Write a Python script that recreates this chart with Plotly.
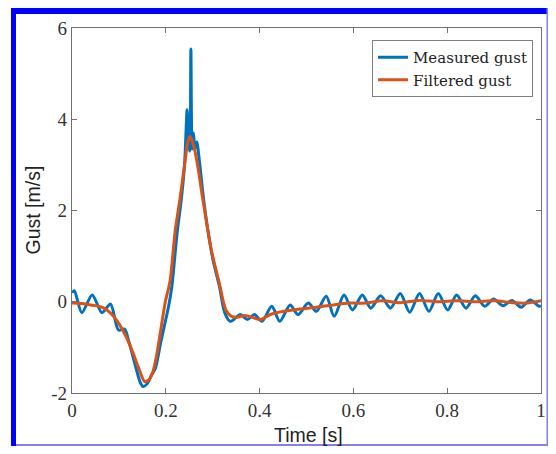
import plotly.graph_objects as go

# ---- data ----
meas_t = [0.000, 0.005, 0.021, 0.043, 0.064, 0.082, 0.099, 0.112, 0.122, 0.135, 0.146, 0.152,
          0.160, 0.170, 0.178, 0.190, 0.206, 0.213, 0.224, 0.233, 0.240, 0.2455, 0.248, 0.251,
          0.2535, 0.256, 0.259, 0.262, 0.266, 0.272, 0.280, 0.290, 0.300, 0.314, 0.326, 0.3375,
          0.359, 0.374, 0.389, 0.405, 0.426, 0.443, 0.465, 0.482, 0.504, 0.521, 0.542, 0.559,
          0.580, 0.598, 0.619, 0.637, 0.658, 0.679, 0.700, 0.720, 0.741, 0.761, 0.781, 0.801,
          0.820, 0.840, 0.860, 0.880, 0.899, 0.919, 0.938, 0.958, 0.977, 0.996, 1.000]
meas_v = [0.20, 0.24, -0.24, 0.15, -0.24, -0.05, -0.62, -0.60, -0.90, -1.40, -1.78, -1.86,
          -1.80, -1.60, -1.45, -0.85, -0.10, 0.34, 1.50, 2.24, 3.00, 4.21, 3.50, 3.30,
          5.54, 3.35, 3.70, 3.35, 3.50, 3.05, 2.30, 1.55, 0.95, 0.35, -0.25, -0.43,
          -0.28, -0.39, -0.28, -0.43, -0.10, -0.43, -0.07, -0.28, -0.03, -0.21, 0.12, -0.32,
          0.15, -0.18, 0.15, -0.14, 0.13, -0.14, 0.18, -0.23, 0.18, -0.21, 0.18, -0.18,
          0.15, -0.14, 0.13, -0.10, 0.06, -0.09, 0.03, -0.12, 0.04, -0.10, -0.08]

filt_t = [0.000, 0.020, 0.040, 0.066, 0.087, 0.100, 0.115, 0.130, 0.142, 0.155, 0.163, 0.172,
          0.180, 0.188, 0.199, 0.209, 0.220, 0.230, 0.240, 0.246, 0.251, 0.260, 0.270, 0.279,
          0.297, 0.314, 0.328, 0.340, 0.353, 0.367, 0.381, 0.402, 0.423, 0.451, 0.486, 0.521,
          0.556, 0.591, 0.626, 0.661, 0.700, 0.740, 0.780, 0.820, 0.860, 0.900, 0.940, 0.970, 1.000]
filt_v = [-0.03, -0.04, -0.07, -0.13, -0.30, -0.48, -0.76, -1.12, -1.45, -1.75, -1.72, -1.55,
          -1.20, -0.70, 0.00, 0.45, 1.55, 2.24, 3.00, 3.45, 3.63, 3.40, 2.85, 2.24,
          1.14, 0.41, -0.18, -0.32, -0.34, -0.30, -0.33, -0.39, -0.28, -0.21, -0.16, -0.12,
          -0.07, -0.03, -0.03, 0.02, -0.02, 0.03, 0.00, 0.02, 0.00, 0.02, -0.02, -0.03, 0.02]

x_ticks = [0, 0.2, 0.4, 0.6, 0.8, 1]
x_ticktext = ["0", "0.2", "0.4", "0.6", "0.8", "1"]
y_ticks = [-2, 0, 2, 4, 6]
y_ticktext = ["-2", "0", "2", "4", "6"]

series_names = ["Measured gust", "Filtered gust"]
colors = ["#0072BD", "#D95319"]

# ---- geometry (page pixels; the page body adds an 8px offset) ----
PAGE_W, PAGE_H = 556, 454
OFF = 8
W, H = PAGE_W - 2 * OFF, PAGE_H - 2 * OFF
L, R, T, B = 72, 541, 28, 393   # plot area in page pixels

def px_x(p):
    return (p - L) / (R - L)

def px_y(p):
    return (B - p) / (B - T)

fig = go.Figure()
fig.add_trace(go.Scatter(x=meas_t, y=meas_v, mode="lines", name=series_names[0],
                         line=dict(color=colors[0], width=3, shape="spline", smoothing=0.8)))
fig.add_trace(go.Scatter(x=filt_t, y=filt_v, mode="lines", name=series_names[1],
                         line=dict(color=colors[1], width=3, shape="spline", smoothing=0.8)))

axis_col = "#707070"
tick_font = dict(family="Liberation Serif, DejaVu Serif, serif", size=19, color="#333333")
title_font = dict(family="Liberation Sans, Arial, sans-serif", size=19.5, color="#222222")

fig.update_layout(
    width=W, height=H,
    margin=dict(l=L - OFF, r=OFF + W - R, t=T - OFF, b=OFF + H - B, autoexpand=False),
    paper_bgcolor="white", plot_bgcolor="white",
    showlegend=True,
    legend=dict(x=px_x(533), y=px_y(40), xanchor="right", yanchor="top",
                bgcolor="white", bordercolor="#808080", borderwidth=1,
                font=dict(family="DejaVu Serif, Liberation Serif, serif", size=15, color="#222222"),
                tracegroupgap=0),
    xaxis=dict(range=[0, 1], tickvals=x_ticks, ticktext=x_ticktext, showgrid=False, zeroline=False,
               showline=True, linecolor=axis_col, linewidth=1.2, mirror="ticks",
               ticks="inside", ticklen=5, tickcolor=axis_col, tickfont=tick_font,
               ticklabeloverflow="allow"),
    yaxis=dict(range=[-2, 6], tickvals=y_ticks, ticktext=y_ticktext, showgrid=False, zeroline=False,
               showline=True, linecolor=axis_col, linewidth=1.2, mirror="ticks",
               ticks="inside", ticklen=5, tickcolor=axis_col, tickfont=tick_font,
               ticklabeloverflow="allow"),
    annotations=[
        dict(text="Time [s]", x=px_x(308), y=px_y(435), xref="paper", yref="paper",
             showarrow=False, xanchor="center", yanchor="middle", font=title_font),
        dict(text="Gust [m/s]", x=px_x(32), y=0.5, xref="paper", yref="paper", textangle=-90,
             showarrow=False, xanchor="center", yanchor="middle", font=title_font),
    ],
    shapes=[
        dict(type="rect", xref="paper", yref="paper", x0=px_x(11), x1=px_x(16), y0=px_y(446), y1=px_y(8),
             fillcolor="#0000FF", line=dict(width=0), layer="above"),
        dict(type="rect", xref="paper", yref="paper", x0=px_x(11), x1=px_x(548), y0=px_y(14), y1=px_y(8),
             fillcolor="#0000FF", line=dict(width=0), layer="above"),
        dict(type="rect", xref="paper", yref="paper", x0=px_x(546.5), x1=px_x(548), y0=px_y(446), y1=px_y(8),
             fillcolor="#8080F0", line=dict(width=0), layer="above"),
        dict(type="rect", xref="paper", yref="paper", x0=px_x(16), x1=px_x(548), y0=px_y(446), y1=px_y(444),
             fillcolor="#8080F0", line=dict(width=0), layer="above"),
    ],
)

fig.write_html("out.html")
